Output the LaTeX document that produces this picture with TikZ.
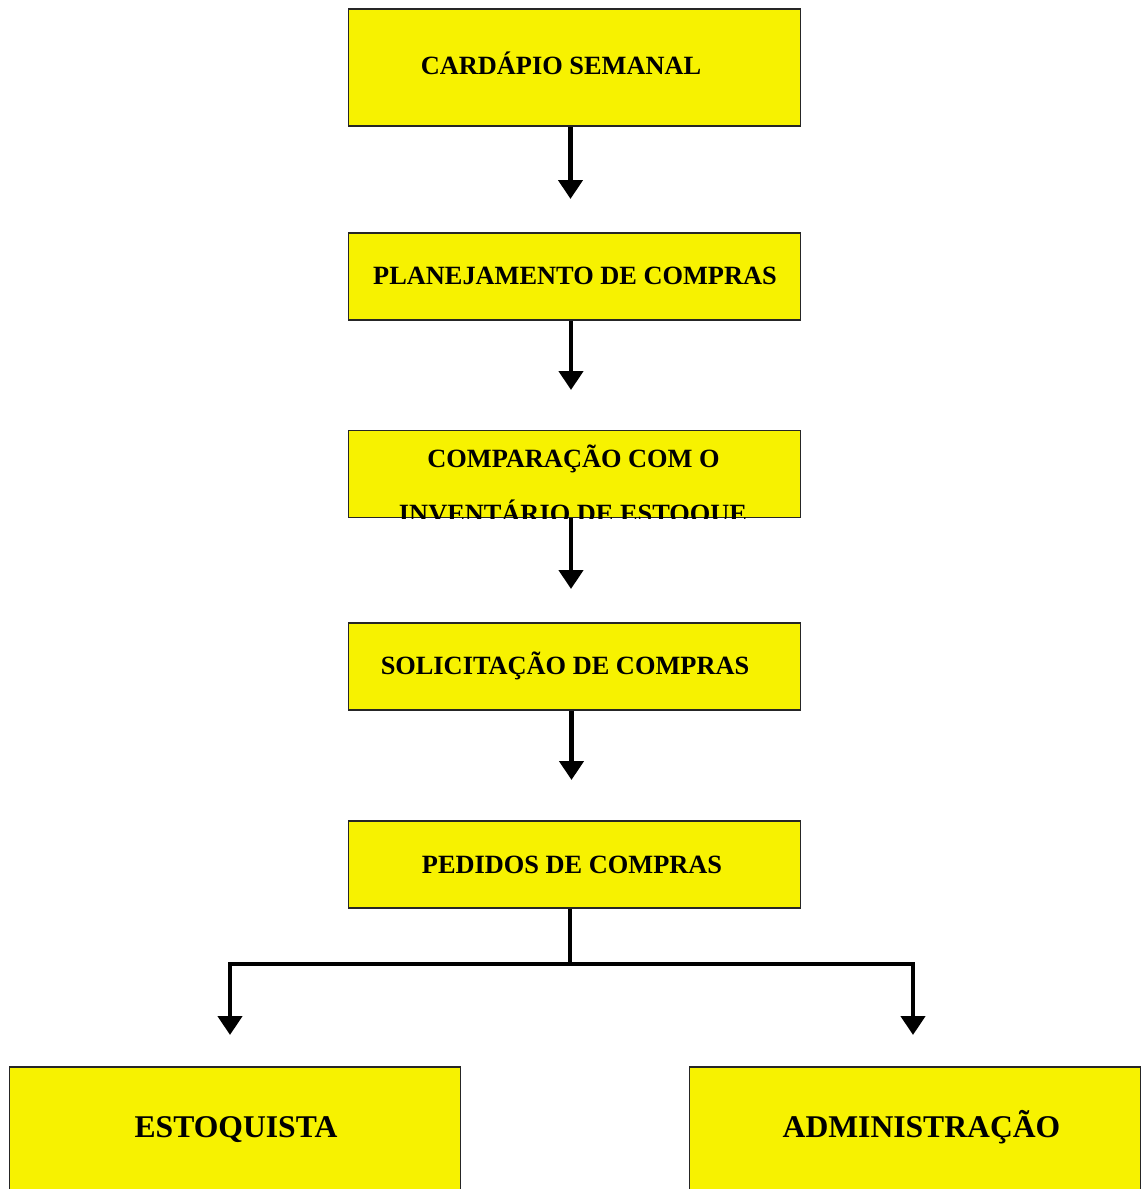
\documentclass[tikz,border=0pt]{standalone}
\usepackage{fontspec}
\setmainfont{Liberation Serif}
\usetikzlibrary{arrows.meta}
\definecolor{amarelo}{RGB}{247,242,0}

\begin{document}
\begin{tikzpicture}[x=0.02cm, y=-0.02cm,
  caixa/.style={draw=black!85, fill=amarelo, line width=0.6pt, inner sep=0pt,
    minimum width=9.06cm, minimum height=1.74cm},
  rotulo/.style={anchor=base, font=\fontsize{15}{18}\selectfont\bfseries},
  rotulogrande/.style={anchor=base, font=\fontsize{18}{22}\selectfont\bfseries},
  seta/.style={line width=2.6pt, -{Triangle[width=13.6pt, length=10.8pt]}}]
  \useasboundingbox (0,0) rectangle (1141,1189);

  % Caixas
  \node[caixa, minimum height=2.34cm] (c1) at (574.5,67.5) {};
  \node[caixa] (c2) at (574.5,276.5) {};
  \node[caixa] (c3) at (574.5,474) {};
  \node[caixa] (c4) at (574.5,666.5) {};
  \node[caixa] (c5) at (574.5,864.5) {};
  \node[caixa, minimum width=9.04cm, minimum height=2.8cm] (c6) at (235,1137) {};
  \node[caixa, minimum width=9.04cm, minimum height=2.8cm] (c7) at (915,1137) {};

  % Textos
  \node[rotulo] (t1) at (561,75) {CARDÁPIO SEMANAL};
  \node[rotulo] (t2) at (575,285) {PLANEJAMENTO DE COMPRAS};
  \begin{scope}
    \clip (c3.north west) rectangle (c3.south east);
    \node[rotulo] (t3a) at (573.5,467) {COMPARAÇÃO COM O};
    \node[rotulo] (t3b) at (573,522.5) {INVENTÁRIO DE ESTOQUE};
  \end{scope}
  \node[rotulo] (t4) at (565,674) {SOLICITAÇÃO DE COMPRAS};
  \node[rotulo] (t5) at (572,873) {PEDIDOS DE COMPRAS};
  \node[rotulogrande] (t6) at (236,1137.5) {ESTOQUISTA};
  \node[rotulogrande] (t7) at (921.5,1137.5) {ADMINISTRAÇÃO};

  % Pontas das setas
  \coordinate (p1) at (570.5,199);
  \coordinate (p2) at (571,390);
  \coordinate (p3) at (571,589);
  \coordinate (p4) at (571.5,780);
  \coordinate (m) at (570,964);
  \coordinate (e) at (230,964);
  \coordinate (d) at (913,964);
  \coordinate (pe) at (230,1035);
  \coordinate (pd) at (913,1035);

  % Setas
  \draw[seta] (c1.south -| p1) -- (p1);
  \draw[seta] (c2.south -| p2) -- (p2);
  \draw[seta] (c3.south -| p3) -- (p3);
  \draw[seta] (c4.south -| p4) -- (p4);
  \draw[line width=2.6pt] (c5.south -| m) -- (m);
  \draw[seta] (m) -- (e) -- (pe);
  \draw[seta] (m) -- (d) -- (pd);
\end{tikzpicture}
\end{document}
